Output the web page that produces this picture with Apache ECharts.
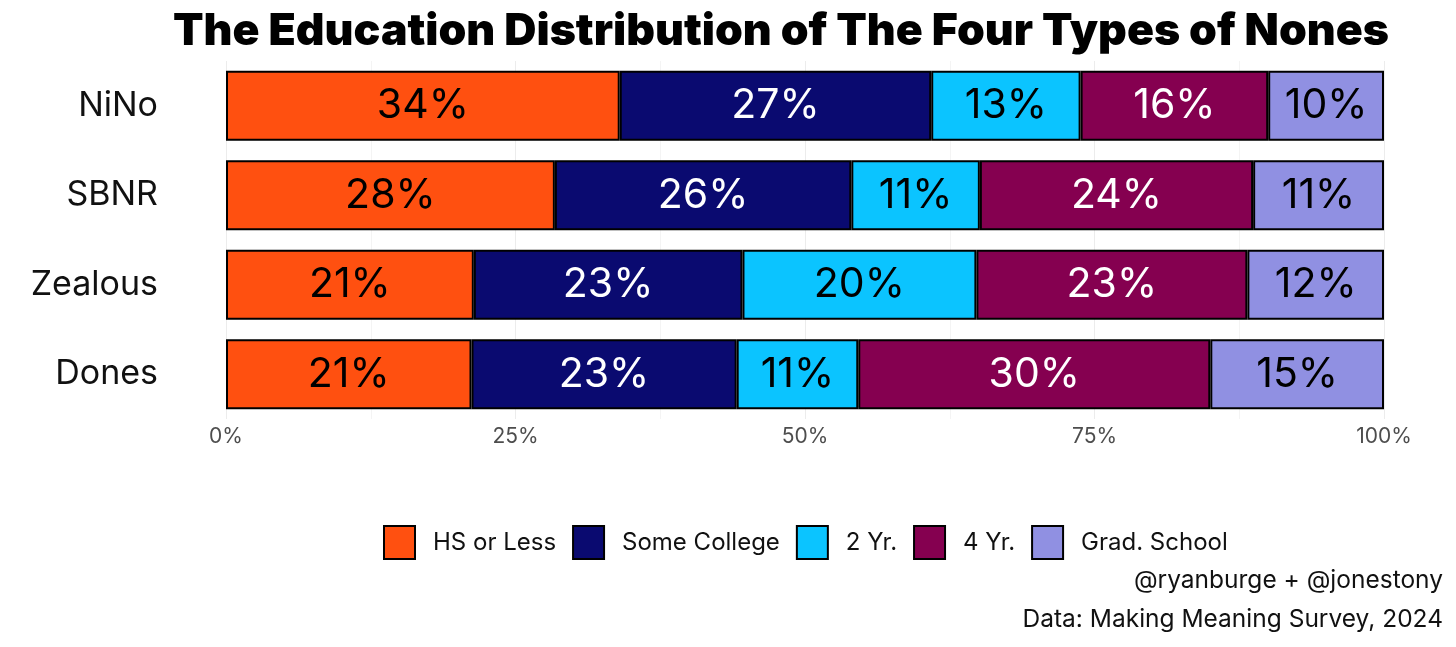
<!DOCTYPE html>
<html>
<head>
<meta charset="utf-8">
<style>html,body{margin:0;padding:0;background:#fff;}#c{width:1456px;height:647px;}</style>
<script src="https://cdn.jsdelivr.net/npm/echarts@6/dist/echarts.min.js"></script>
</head>
<body>
<div id="c"></div>
<script>
const categories = ['NiNo', 'SBNR', 'Zealous', 'Dones'];
const seriesNames = ['HS or Less', 'Some College', '2 Yr.', '4 Yr.', 'Grad. School'];
const hsOrLess = [34.0, 28.4, 21.4, 21.2];
const someCollege = [26.9, 25.6, 23.2, 22.9];
const twoYear = [12.9, 11.1, 20.2, 10.5];
const fourYear = [16.2, 23.6, 23.4, 30.4];
const gradSchool = [10.0, 11.3, 11.8, 15.0];
const xTicks = ['0%', '25%', '50%', '75%', '100%'];
const captionLines = ['@ryanburge + @jonestony', 'Data: Making Meaning Survey, 2024'];

const values = [hsOrLess, someCollege, twoYear, fourYear, gradSchool];
const colors = ['#FF5010', '#0A0A70', '#0BC4FF', '#850050', '#9090E2'];
const labelColors = ['#000', '#fff', '#000', '#fff', '#000'];
const FONT = 'Inter';

const chart = echarts.init(document.getElementById('c'), null, {renderer: 'canvas'});
chart.setOption({
  backgroundColor: '#fff',
  animation: false,
  title: {
    text: 'The Education Distribution of The Four Types of Nones',
    left: 776, top: 4, textAlign: 'center',
    textStyle: {fontFamily: FONT, fontWeight: 900, fontSize: 44.6, color: '#000'}
  },
  grid: {left: 226, right: 72, top: 61, height: 358},
  xAxis: {
    type: 'value', min: 0, max: 100, interval: 25,
    axisLine: {show: false}, axisTick: {show: false},
    axisLabel: {
      margin: 7, fontFamily: FONT, fontSize: 21, color: '#4d4d4d',
      formatter: v => xTicks[Math.round(v / 25)]
    },
    splitLine: {show: true, lineStyle: {color: '#ececec', width: 1}},
    minorTick: {show: false, splitNumber: 2},
    minorSplitLine: {show: true, lineStyle: {color: '#f4f4f4', width: 1}}
  },
  yAxis: {
    type: 'category', data: categories, inverse: true,
    axisLine: {show: false}, axisTick: {show: false},
    axisLabel: {margin: 68, fontFamily: FONT, fontSize: 34, color: '#111', padding: [4, 0, 0, 0]},
    splitLine: {show: false}
  },
  legend: {
    data: seriesNames, left: 378, top: 520,
    itemWidth: 31, itemHeight: 33, itemGap: 16,
    textStyle: {fontFamily: FONT, fontSize: 24, color: '#111', padding: [0, 0, 0, 13]},
    icon: 'rect'
  },
  graphic: captionLines.map((t, i) => ({
    type: 'text', right: 13, top: 568 + i * 39,
    style: {text: t, fontFamily: FONT, fontSize: 24.5, fill: '#111'}
  })),
  series: seriesNames.map((name, i) => ({
    name: name, type: 'bar', stack: 'total', barWidth: 70,
    data: values[i],
    itemStyle: {color: colors[i], borderColor: '#000', borderWidth: 2},
    label: {
      show: true, position: 'inside',
      formatter: p => Math.round(p.value) + '%',
      fontFamily: FONT, fontSize: 41, color: labelColors[i]
    }
  }))
});
</script>
</body>
</html>
